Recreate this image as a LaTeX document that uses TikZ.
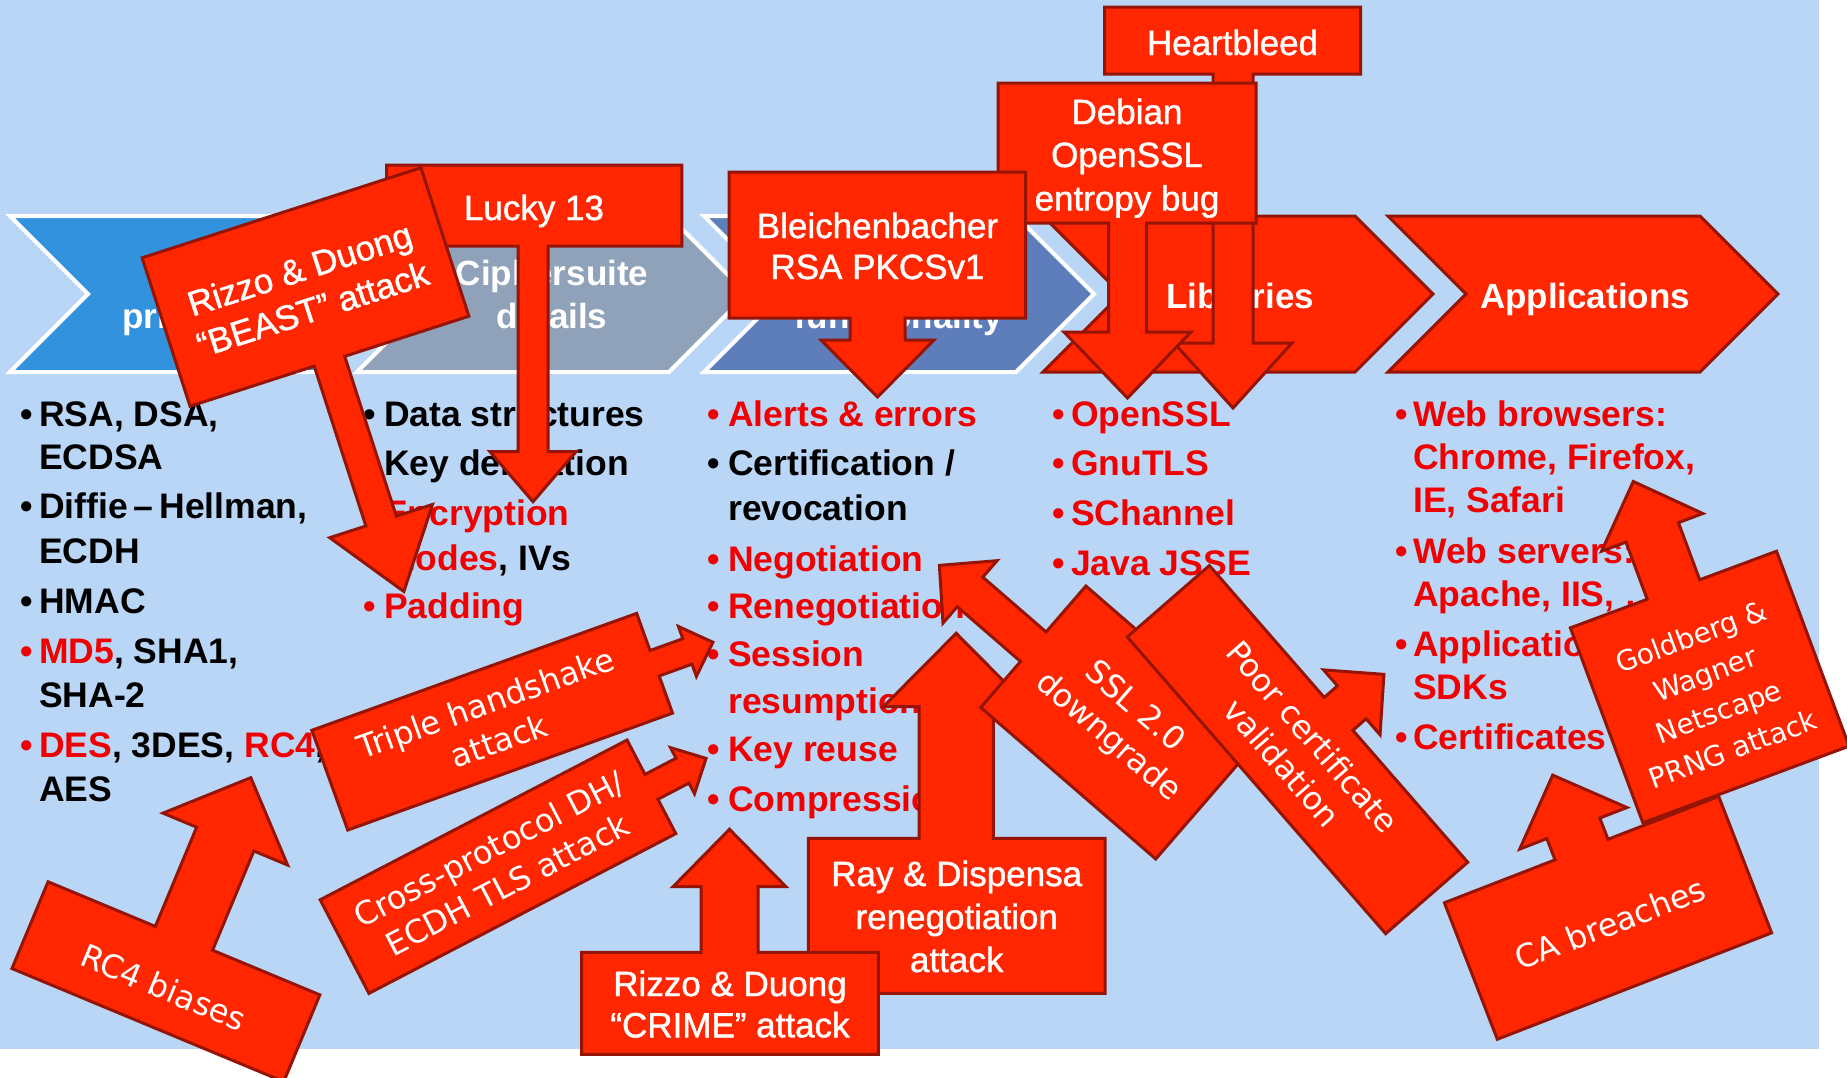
\documentclass[tikz,border=0pt]{standalone}
\usepackage{fontspec}
\setmainfont{Liberation Sans}
\newfontfamily\dvs{DejaVu Sans}
\newfontfamily\medfont{Liberation Sans}[FakeBold=1.2]
\definecolor{bg}{RGB}{185,214,247}
\definecolor{cfill}{RGB}{255,38,0}
\definecolor{cline}{RGB}{150,20,5}
\definecolor{tred}{RGB}{240,0,0}
\definecolor{chA}{RGB}{50,146,221}
\definecolor{chB}{RGB}{143,162,186}
\definecolor{chC}{RGB}{93,125,187}
\begin{document}
\begin{tikzpicture}[x=1pt,y=-1pt,
  callout/.style={fill=cfill,draw=cline,line width=3pt,line join=miter},
  chev/.style={line width=4pt,draw=white,line join=miter},
  chevred/.style={line width=3pt,draw=cline,fill=cfill,line join=miter},
  chevtxt/.style={text=white,font=\bfseries\fontsize{35}{43}\selectfont,anchor=base,inner sep=0},
  boxtxt/.style={text=white,font=\medfont\fontsize{35}{43}\selectfont,anchor=base,inner sep=0},
  rbox/.style={text=white,font=\medfont\fontsize{35}{42}\selectfont,align=center,inner sep=0},
  dvtxt/.style={text=white,font=\dvs\fontsize{32}{40}\selectfont,align=center,inner sep=0},
  coltxt/.style={font=\bfseries\fontsize{35.5}{43}\selectfont,anchor=base west,inner sep=0},
  redtxt/.style={coltxt,text=tred}]
\useasboundingbox (0,0) rectangle (1847,1077);
\fill[white] (0,0) rectangle (1847,1077);
\fill[bg] (0,0) rectangle (1819,1049);

% chevrons
\draw[chev,fill=chA] (10,216) -- (322,216) -- (400,294) -- (322,372) -- (10,372) -- (88,294) -- cycle;
\draw[chev,fill=chB] (357,216) -- (669,216) -- (747,294) -- (669,372) -- (357,372) -- (435,294) -- cycle;
\draw[chev,fill=chC] (704,216) -- (1016,216) -- (1094,294) -- (1016,372) -- (704,372) -- (782,294) -- cycle;
\draw[chevred] (1043,216) -- (1355,216) -- (1433,294) -- (1355,372) -- (1043,372) -- (1121,294) -- cycle;
\draw[chevred] (1388,216) -- (1700,216) -- (1778,294) -- (1700,372) -- (1388,372) -- (1466,294) -- cycle;
\node[chevtxt] (h1a) at (205,285) {Crypto};
\node[chevtxt] (h1b) at (205,328) {primitives};
\node[chevtxt] (h2a) at (552,285) {Ciphersuite};
\node[chevtxt] (h2b) at (552,328) {details};
\node[chevtxt] (h3a) at (899,285) {Advanced};
\node[chevtxt] (h3b) at (899,328) {functionality};
\node[chevtxt] (h4) at (1240,308) {Libraries};
\node[chevtxt] (h5) at (1585,308) {Applications};

% column 1
\node[coltxt] (b11) at (20,426.7) {•};
\node[coltxt] (t11) at (39,426.7) {RSA, DSA,};
\node[coltxt] (t12) at (39,469) {ECDSA};
\node[coltxt] (b12) at (20,518) {•};
\node[coltxt] (t13) at (39,518) {Diffie\,–\,Hellman,};
\node[coltxt] (t14) at (39,563) {ECDH};
\node[coltxt] (b13) at (20,613) {•};
\node[coltxt] (t15) at (39,613) {HMAC};
\node[redtxt] (b14) at (20,663) {•};
\node[coltxt] (t16) at (39,663) {\textcolor{tred}{MD5}, SHA1,};
\node[coltxt] (t17) at (39,707) {SHA-2};
\node[redtxt] (b15) at (20,757) {•};
\node[coltxt] (t18) at (39,757) {\textcolor{tred}{DES}, 3DES, \textcolor{tred}{RC4},};
\node[coltxt] (t19) at (39,801) {AES};

% column 2
\node[coltxt] (b21) at (363,426.7) {•};
\node[coltxt] (t21) at (384,426.7) {Data structures};
\node[coltxt] (b22) at (363,475) {•};
\node[coltxt] (t22) at (384,475) {Key derivation};
\node[redtxt] (b23) at (363,525) {•};
\node[redtxt] (t23) at (384,525) {Encryption};
\node[coltxt] (t24) at (384,570) {\textcolor{tred}{modes}, IVs};
\node[redtxt] (b24) at (363,618) {•};
\node[redtxt] (t25) at (384,618) {Padding};

% column 3
\node[redtxt] (b31) at (707,426.7) {•};
\node[redtxt] (t31) at (728,426.7) {Alerts \& errors};
\node[coltxt] (b32) at (707,475) {•};
\node[coltxt] (t32) at (728,475) {Certification /};
\node[coltxt] (t33) at (728,520) {revocation};
\node[redtxt] (b33) at (707,571.7) {•};
\node[redtxt] (t34) at (728,571.7) {Negotiation};
\node[redtxt] (b34) at (707,618) {•};
\node[redtxt] (t35) at (728,618) {Renegotiation};
\node[redtxt] (b35) at (707,666.7) {•};
\node[redtxt] (t36) at (728,666.7) {Session};
\node[redtxt] (t37) at (728,713) {resumption};
\node[redtxt] (b36) at (707,761.7) {•};
\node[redtxt] (t38) at (728,761.7) {Key reuse};
\node[redtxt] (b37) at (707,811.7) {•};
\node[redtxt] (t39) at (728,811.7) {Compression};

% column 4
\node[redtxt] (b41) at (1052,426.7) {•};
\node[redtxt] (t41) at (1071,426.7) {OpenSSL};
\node[redtxt] (b42) at (1052,475) {•};
\node[redtxt] (t42) at (1071,475) {GnuTLS};
\node[redtxt] (b43) at (1052,525) {•};
\node[redtxt] (t43) at (1071,525) {SChannel};
\node[redtxt] (b44) at (1052,575) {•};
\node[redtxt] (t44) at (1071,575) {Java JSSE};

% column 5
\node[redtxt] (b51) at (1395,426) {•};
\node[redtxt] (t51) at (1413,426) {Web browsers:};
\node[redtxt] (t52) at (1413,469) {Chrome, Firefox,};
\node[redtxt] (t53) at (1413,512) {IE, Safari};
\node[redtxt] (b52) at (1395,563) {•};
\node[redtxt] (t54) at (1413,563) {Web servers:};
\node[redtxt] (t55) at (1413,606) {Apache, IIS, …};
\node[redtxt] (b53) at (1395,656) {•};
\node[redtxt] (t56) at (1413,656) {Application};
\node[redtxt] (t57) at (1413,699) {SDKs};
\node[redtxt] (b54) at (1395,749) {•};
\node[redtxt] (t58) at (1413,749) {Certificates};

% Heartbleed
\draw[callout] (1104.5,7) -- (1360.6,7) -- (1360.6,74) -- (1253,74) -- (1253,343) -- (1292,343) -- (1233,408) -- (1174,343) -- (1213,343) -- (1213,74) -- (1104.5,74) -- cycle;
\node[boxtxt] (hb) at (1232.5,55) {Heartbleed};

% Debian
\draw[callout] (998,83) -- (1256,83) -- (1256,223) -- (1146.5,223) -- (1146.5,332) -- (1191,332) -- (1127.5,398) -- (1064,332) -- (1108.5,332) -- (1108.5,223) -- (998,223) -- cycle;
\node[boxtxt] (deb1) at (1127,124) {Debian};
\node[boxtxt] (deb2) at (1127,167) {OpenSSL};
\node[boxtxt] (deb3) at (1127,210.5) {entropy bug};

% Bleichenbacher
\draw[callout] (729,172) -- (1025.5,172) -- (1025.5,318) -- (905,318) -- (905,340) -- (934,340) -- (877.5,397) -- (821,340) -- (850,340) -- (850,318) -- (729,318) -- cycle;
\node[boxtxt] (bl1) at (877.5,238) {Bleichenbacher};
\node[boxtxt] (bl2) at (877.5,279) {RSA PKCSv1};

% Lucky 13
\draw[callout] (386.6,165) -- (681.8,165) -- (681.8,246) -- (548,246) -- (548,451.7) -- (576,451.7) -- (533,501.7) -- (490,451.7) -- (518,451.7) -- (518,246) -- (386.6,246) -- cycle;
\node[boxtxt] (l13) at (534,220) {Lucky 13};

% BEAST
\begin{scope}[shift={(305.5,287)},rotate=17.9]
\draw[callout] (-146.5,-78) -- (146.5,-78) -- (146.5,78) -- (16,78) -- (16,246) -- (54,246) -- (0,320) -- (-54,246) -- (-16,246) -- (-16,78) -- (-146.5,78) -- cycle;
\node[rbox,rotate=17.9] (beast) at (0,2) {Rizzo \& Duong\\“BEAST” attack};
\end{scope}

% Triple handshake
\begin{scope}[shift={(492.2,721.7)},rotate=19.8]
\draw[callout] (-172.6,-53) -- (172.6,-53) -- (172.6,-13.5) -- (207.5,-13.5) -- (207.5,-26.5) -- (234.6,0) -- (207.5,26.5) -- (207.5,13.5) -- (172.6,13.5) -- (172.6,53) -- (-172.6,53) -- cycle;
\node[dvtxt,rotate=19.8] (triple) at (0,0) {Triple handshake\\attack};
\end{scope}

% Cross-protocol
\begin{scope}[shift={(498,866.7)},rotate=27.5]
\draw[callout] (-173,-52.75) -- (173,-52.75) -- (173,-14) -- (208,-14) -- (208,-26) -- (234.6,0) -- (208,26) -- (208,14) -- (173,14) -- (173,52.75) -- (-173,52.75) -- cycle;
\node[dvtxt,rotate=27.5] (cross) at (0,0) {Cross-protocol DH/\\ECDH TLS attack};
\end{scope}

% RC4 biases
\begin{scope}[shift={(165.9,981.7)},rotate=-22.6]
\draw[callout] (-147.2,-47) -- (-31,-47) -- (-31,-154.5) -- (-67.5,-154.5) -- (0,-221) -- (67.5,-154.5) -- (31,-154.5) -- (31,-47) -- (147.2,-47) -- (147.2,47) -- (-147.2,47) -- cycle;
\node[dvtxt,rotate=-22.6] (rc4) at (0,6) {RC4 biases};
\end{scope}

% Ray & Dispensa
\draw[callout] (808.3,838.3) -- (919,838.3) -- (919,706.7) -- (883.3,706.7) -- (956.2,633.3) -- (1029,706.7) -- (993.3,706.7) -- (993.3,838.3) -- (1105,838.3) -- (1105,993.3) -- (808.3,993.3) -- cycle;
\node[boxtxt] (ray1) at (956.7,886) {Ray \& Dispensa};
\node[boxtxt] (ray2) at (956.7,929) {renegotiation};
\node[boxtxt] (ray3) at (956.7,972) {attack};

% CRIME
\draw[callout] (581.7,952.3) -- (701,952.3) -- (701,886.7) -- (673,886.7) -- (729.5,829.3) -- (786,886.7) -- (758,886.7) -- (758,952.3) -- (878.3,952.3) -- (878.3,1054.3) -- (581.7,1054.3) -- cycle;
\node[boxtxt] (crime1) at (730,996) {Rizzo \& Duong};
\node[boxtxt] (crime2) at (730,1037.3) {“CRIME” attack};

% SSL 2.0 downgrade
\begin{scope}[shift={(1120.8,722.5)},rotate=-40.9]
\draw[callout] (-115.75,-80.3) -- (115.75,-80.3) -- (115.75,80.3) -- (-115.75,80.3) -- (-115.75,19.5) -- (-199.5,19.5) -- (-199.5,41.3) -- (-240,0) -- (-199.5,-41.3) -- (-199.5,-19.5) -- (-115.75,-19.5) -- cycle;
\node[dvtxt,rotate=-40.9] (ssl) at (0,0) {SSL 2.0\\downgrade};
\end{scope}

% Poor certificate validation
\begin{scope}[shift={(1297.5,749.6)},rotate=-48.95]
\draw[callout] (-196.7,-54.4) -- (-21.8,-54.4) -- (-21.8,-72) -- (-43,-72) -- (0,-114.6) -- (43,-72) -- (21.8,-72) -- (21.8,-54.4) -- (196.7,-54.4) -- (196.7,54.4) -- (-196.7,54.4) -- cycle;
\node[dvtxt,rotate=-48.95] (poor) at (0,0) {Poor certificate\\validation};
\end{scope}

% CA breaches
\begin{scope}[shift={(1608,917.8)},rotate=21.2]
\draw[callout] (-147.1,-73.2) -- (-28.4,-73.2) -- (-28.4,-96) -- (-57.5,-96) -- (0,-153) -- (57.5,-96) -- (28.4,-96) -- (28.4,-73.2) -- (147.1,-73.2) -- (147.1,73.2) -- (-147.1,73.2) -- cycle;
\node[dvtxt,rotate=21.2] (ca) at (0,6) {CA breaches};
\end{scope}

% Goldberg & Wagner
\begin{scope}[shift={(1709.7,687)},rotate=20.4]
\draw[callout] (-110,-104) -- (-28,-104) -- (-28,-165) -- (-54,-165) -- (0,-219.3) -- (54,-165) -- (28,-165) -- (28,-104) -- (110,-104) -- (110,104) -- (-110,104) -- cycle;
\node[dvtxt,font=\dvs\fontsize{28}{40}\selectfont,rotate=20.4] (gw) at (0,6) {Goldberg \&\\Wagner\\Netscape\\PRNG attack};
\end{scope}
\end{tikzpicture}
\end{document}
